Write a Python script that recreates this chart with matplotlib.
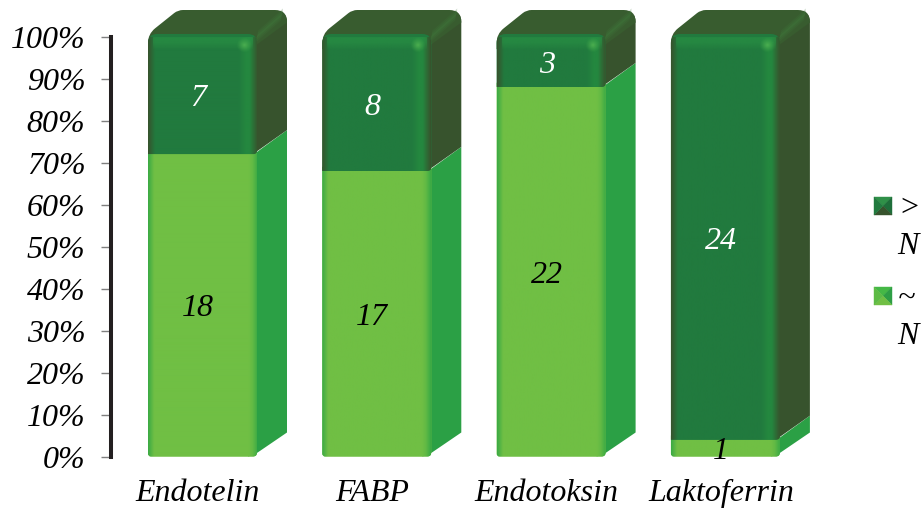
import matplotlib
matplotlib.use('Agg')
import matplotlib.pyplot as plt
import numpy as np
from matplotlib.colors import to_rgb
from matplotlib.patches import Polygon, PathPatch
from matplotlib.path import Path
from matplotlib.transforms import Affine2D

categories = ['Endotelin', 'FABP', 'Endotoksin', 'Laktoferrin']
normal_counts = [18, 17, 22, 1]
high_counts = [7, 8, 3, 24]
yticks = [0, 10, 20, 30, 40, 50, 60, 70, 80, 90, 100]
legend_labels = ['>\nN', '~\nN']

plt.rcParams['font.family'] = ['Liberation Serif', 'DejaVu Serif']
plt.rcParams['font.style'] = 'italic'

W, H = 922, 509
fig = plt.figure(figsize=(W / 100, H / 100), dpi=100)

# axes box in pixels
AX_L, AX_R, AX_B, AX_T = 111, 830, 456.5, 36.5
ax = fig.add_axes([AX_L / W, 1 - AX_B / H, (AX_R - AX_L) / W, (AX_B - AX_T) / H])

# scale of the two axes, pixels per unit
PX_X = 174.3
PX_Y = (AX_B - AX_T) / 100
X0 = 198

# bar geometry in pixels
LEFT, RIGHT = -50, 59
DEPTH_X, DEPTH_Y = 30, 24
LIP = 2.5
FS = 23

DARK_SIDE = '#37532D'
DARK_TOP = '#385C2F'
DARK_FRONT = '#217A3E'
DARK_SHINE = '#24873F'
LIGHT_FRONT = '#70BF44'
LIGHT_EDGE = '#3BAA45'
LIGHT_SIDE = '#2BA045'


def round_path(pts, radii):
    # closed path through pts with rounded corners
    pts = [np.array(p, float) for p in pts]
    n = len(pts)
    verts, codes = [], []
    for i in range(n):
        p, a, b = pts[i], pts[i - 1], pts[(i + 1) % n]
        r = radii[i]
        u = (a - p) / np.linalg.norm(a - p)
        v = (b - p) / np.linalg.norm(b - p)
        verts.append(p + u * r)
        codes.append(Path.MOVETO if i == 0 else Path.LINETO)
        if r > 0:
            verts += [p, p + v * r]
            codes += [Path.CURVE3, Path.CURVE3]
    verts.append(verts[0])
    codes.append(Path.CLOSEPOLY)
    return np.array(verts), codes


def shape(i, pts, radii, **kw):
    # pts are (x offset in px from the bar slot, y in percent, y offset in px)
    scaled = [(i * PX_X + x, y * PX_Y + dy) for x, y, dy in pts]
    verts, codes = round_path(scaled, radii)
    verts = verts / [PX_X, PX_Y]
    patch = PathPatch(Path(verts, codes), clip_on=False, lw=0, **kw)
    ax.add_patch(patch)
    return patch


def profile(stops, colors, n=220):
    xs = np.linspace(0, 109, n)
    rgb = np.array([to_rgb(c) for c in colors])
    return np.stack([np.interp(xs, stops, rgb[:, k]) for k in range(3)], axis=1)[None, :, :]


dark_grad = profile([0, 7, 90, 97, 101, 109],
                    [DARK_SIDE, DARK_FRONT, DARK_FRONT, DARK_SHINE, DARK_SHINE, DARK_SIDE])
light_grad = profile([0, 6, 100, 104, 109],
                     [LIGHT_EDGE, LIGHT_FRONT, LIGHT_FRONT, '#62BA44', LIGHT_EDGE])

for i in range(len(categories)):
    total = normal_counts[i] + high_counts[i]
    split = normal_counts[i] / total * 100
    xa = i + LEFT / PX_X
    xb = i + RIGHT / PX_X

    # side faces
    shape(i, [(RIGHT - 9, 0, 0), (RIGHT - 3, 0, 1.5), (RIGHT + DEPTH_X, 0, DEPTH_Y),
              (RIGHT + DEPTH_X, split, DEPTH_Y), (RIGHT - 3, split, 0)],
          [0, 0, 0, 0, 0], color=LIGHT_SIDE)
    shape(i, [(RIGHT - 4, split, 0), (RIGHT + DEPTH_X, split, DEPTH_Y),
              (RIGHT + DEPTH_X, 100, DEPTH_Y + LIP), (RIGHT - 4, 100, 0)],
          [0, 0, 12, 0], color=DARK_SIDE)

    # top face, only as far as the diagonal edge towards the back corner
    shape(i, [(LEFT, 97, 0), (LEFT, 100, LIP), (LEFT + DEPTH_X, 100, DEPTH_Y + LIP),
              (RIGHT + DEPTH_X, 100, DEPTH_Y + LIP), (RIGHT + DEPTH_X, 100, DEPTH_Y - 10),
              (RIGHT, 100, -8), (RIGHT - 4, 97, 0)],
          [0, 9, 5, 12, 0, 0, 0], color=DARK_TOP)

    # soft highlight along that diagonal edge
    for w, a in [(6, 0.25), (4, 0.35), (2, 0.5)]:
        shape(i, [(RIGHT - 1, 100, -w), (RIGHT + DEPTH_X - 6, 100, DEPTH_Y - 2 - w),
                  (RIGHT + DEPTH_X - 4, 100, DEPTH_Y - 2 + w), (RIGHT + 1, 100, w)],
              [0, 0, 0, 0], color='#3D7238', alpha=a)

    # front faces, gradient images clipped to rounded outlines
    clip_light = shape(i, [(LEFT, 0, 0), (LEFT, split + 1, 0), (RIGHT, split + 1, 0), (RIGHT, 0, 0)],
                       [3, 0, 0, 4], color=LIGHT_FRONT)
    im = ax.imshow(light_grad, extent=(xa, xb, 0, split + 1), aspect='auto', zorder=2)
    im.set_clip_path(clip_light)

    clip_dark = shape(i, [(LEFT, split, 0), (LEFT, 100, LIP), (RIGHT, 100, LIP), (RIGHT, split, 0)],
                      [0, 9, 9, 4], color=DARK_FRONT, zorder=2.1)
    im = ax.imshow(dark_grad, extent=(xa, xb, split, 100 + LIP / PX_Y), aspect='auto', zorder=2.2)
    im.set_clip_path(clip_dark)

    # lighter band under the top edge, small glow in its right corner
    band = np.zeros((60, 2, 4))
    band[:, :, :3] = to_rgb('#2A9445')
    band[:, :, 3] = np.interp(np.linspace(0, 16, 60), [0, 5, 9, 16], [0.15, 0.6, 0.5, 0])[:, None]
    top = 100 + LIP / PX_Y
    im = ax.imshow(band, extent=(xa + 5 / PX_X, xb - 4 / PX_X, top - 16 / PX_Y, top),
                   aspect='auto', zorder=2.3)
    im.set_clip_path(clip_dark)
    yy, xx = np.mgrid[-1:1:40j, -1:1:40j]
    glow = np.zeros((40, 40, 4))
    glow[:, :, :3] = to_rgb('#4CAF50')
    glow[:, :, 3] = np.clip(1 - np.hypot(xx, yy), 0, 1) ** 1.3
    cx, cy = RIGHT - 13, 100 - 8.5 / PX_Y
    im = ax.imshow(glow, extent=(i + (cx - 8) / PX_X, i + (cx + 8) / PX_X, cy - 8 / PX_Y, cy + 8 / PX_Y),
                   aspect='auto', zorder=2.4)
    im.set_clip_path(clip_dark)

    # counts inside the segments
    drop = 3.5 / PX_Y
    ax.text(i, split / 2 - drop, str(normal_counts[i]), color='black', fontsize=FS,
            ha='center', va='center', zorder=5, clip_on=False)
    ax.text(i, split + (100 - split) / 2 - drop, str(high_counts[i]), color='white', fontsize=FS,
            ha='center', va='center', zorder=5, clip_on=False)

ax.set_xlim((AX_L - X0) / PX_X, (AX_R - X0) / PX_X)
ax.set_ylim(0, 100)
ax.patch.set_visible(False)

ax.set_yticks(yticks)
ax.set_yticklabels(['%d%%' % t for t in yticks], fontsize=FS)
ax.tick_params(axis='y', length=7.5, width=1, color='#7F7F7F', pad=11)
ax.set_xticks(range(len(categories)))
ax.set_xticklabels(categories, fontsize=FS)
ax.tick_params(axis='x', length=0, pad=16.5)

for s in ['top', 'right', 'bottom']:
    ax.spines[s].set_visible(False)
ax.spines['left'].set_linewidth(2.9)
ax.spines['left'].set_color('#231F20')
ax.spines['left'].set_zorder(6)

# legend drawn in figure pixels
px = Affine2D().scale(1 / W, -1 / H).translate(0, 1) + fig.transFigure
legend_boxes = [(874, 197), (874, 287)]
legend_faces = [('#2F9048', '#1E6E3A', '#37532D', '#217A3E'),
                ('#45B846', '#2E9E45', '#70BF44', '#5DBB45')]
for (bx, by), faces, label in zip(legend_boxes, legend_faces, legend_labels):
    s = 18
    mid = (bx + s / 2, by + s / 2)
    corners = [(bx, by), (bx + s, by), (bx + s, by + s), (bx, by + s)]
    for k, c in enumerate(faces):
        fig.add_artist(Polygon([corners[k], corners[(k + 1) % 4], mid], closed=True,
                               facecolor=c, edgecolor=c, lw=0.3, transform=px))
    sym, letter = label.split('\n')
    fig.text(898, by + 11, sym, fontsize=FS, va='center', ha='left', transform=px)
    fig.text(897, by + 50, letter, fontsize=FS, va='center', ha='left', transform=px)

fig.savefig('out.png', dpi=100)
